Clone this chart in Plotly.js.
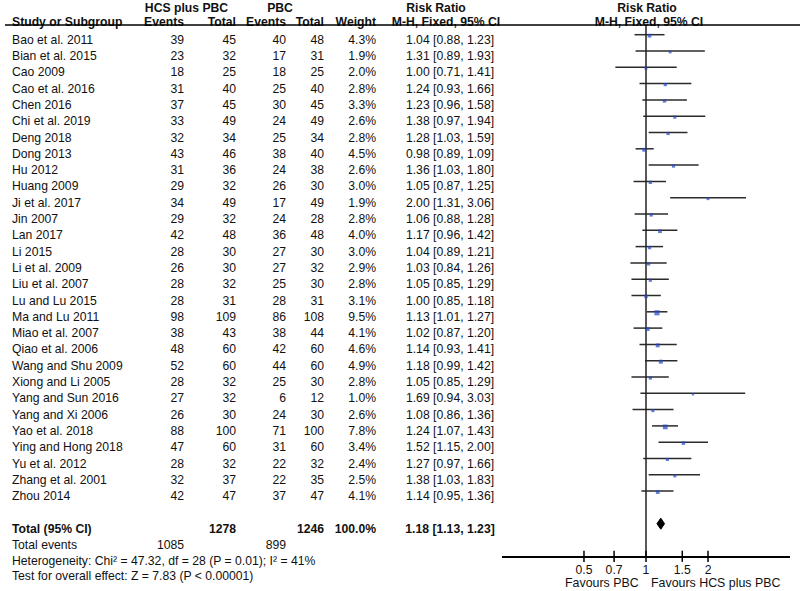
<!DOCTYPE html>
<html>
<head>
<meta charset="utf-8">
<script src="https://cdn.plot.ly/plotly-3.0.1.min.js"></script>
<style>html,body{margin:0;padding:0;background:#fff;}#chart{width:800px;height:591px;}</style>
</head>
<body>
<div id="chart"></div>
<script>
// ---------------- DATA ----------------
const studies = ["Bao et al. 2011","Bian et al. 2015","Cao 2009","Cao et al. 2016","Chen 2016","Chi et al. 2019","Deng 2018","Dong 2013","Hu 2012","Huang 2009","Ji et al. 2017","Jin 2007","Lan 2017","Li 2015","Li et al. 2009","Liu et al. 2007","Lu and Lu 2015","Ma and Lu 2011","Miao et al. 2007","Qiao et al. 2006","Wang and Shu 2009","Xiong and Li 2005","Yang and Sun 2016","Yang and Xi 2006","Yao et al. 2018","Ying and Hong 2018","Yu et al. 2012","Zhang et al. 2001","Zhou 2014"];
const hcsEvents = [39,23,18,31,37,33,32,43,31,29,34,29,42,28,26,28,28,98,38,48,52,28,27,26,88,47,28,32,42];
const hcsTotal  = [45,32,25,40,45,49,34,46,36,32,49,32,48,30,30,32,31,109,43,60,60,32,32,30,100,60,32,37,47];
const pbcEvents = [40,17,18,25,30,24,25,38,24,26,17,24,36,27,27,25,28,86,38,42,44,25,6,24,71,31,22,22,37];
const pbcTotal  = [48,31,25,40,45,49,34,40,38,30,49,28,48,30,32,30,31,108,44,60,60,30,12,30,100,60,32,35,47];
const weights   = [4.3,1.9,2.0,2.8,3.3,2.6,2.8,4.5,2.6,3.0,1.9,2.8,4.0,3.0,2.9,2.8,3.1,9.5,4.1,4.6,4.9,2.8,1.0,2.6,7.8,3.4,2.4,2.5,4.1];
const riskRatio = [1.04,1.31,1.00,1.24,1.23,1.38,1.28,0.98,1.36,1.05,2.00,1.06,1.17,1.04,1.03,1.05,1.00,1.13,1.02,1.14,1.18,1.05,1.69,1.08,1.24,1.52,1.27,1.38,1.14];
const ciLow     = [0.88,0.89,0.71,0.93,0.96,0.97,1.03,0.89,1.03,0.87,1.31,0.88,0.96,0.89,0.84,0.85,0.85,1.01,0.87,0.93,0.99,0.85,0.94,0.86,1.07,1.15,0.97,1.03,0.95];
const ciHigh    = [1.23,1.93,1.41,1.66,1.58,1.94,1.59,1.09,1.80,1.25,3.06,1.28,1.42,1.21,1.26,1.29,1.18,1.27,1.20,1.41,1.42,1.29,3.03,1.36,1.43,2.00,1.66,1.83,1.36];

const totalHcs = 1278, totalPbc = 1246, totalWeight = 100.0;
const totalRR = 1.18, totalLow = 1.13, totalHigh = 1.23;
const totalEventsHcs = 1085, totalEventsPbc = 899;
const hetChi2 = "47.32", hetDf = 28, hetP = "0.01", hetI2 = 41;
const effectZ = "7.83", effectP = "< 0.00001";

const tickVals = [0.5, 0.7, 1, 1.5, 2];
const tickLabels = ["0.5", "0.7", "1", "1.5", "2"];
const axisRange = [0.2, 5];
const nullValue = 1;

// ---------------- LAYOUT CONSTANTS ----------------
const W = 800, H = 591;
const ROW0_PX = 34.7, ROW_PX = 16.3;
const yTop = -ROW0_PX / ROW_PX;
const yBottom = yTop + H / ROW_PX;
const TEXT_DY = 0.37;
const TOTAL_ROW = studies.length + 1;      // 30
const EVENTS_ROW = TOTAL_ROW + 1;
const HET_ROW = TOTAL_ROW + 2;
const TEST_ROW = TOTAL_ROW + 3;
const AXIS_ROW = 32;
const FAV_ROW = 33.25;
const HDR1_ROW = -1.98, HDR2_ROW = -1.07, RULE_ROW = -0.6;
const DIAMOND_HALF = 0.34;

const COL = {study: 12, hcsEv: 184, hcsTot: 236, pbcEv: 286, pbcTot: 324, weight: 376, rr: 450,
             hdrHcs: 186.5, hdrPbc: 280, hdrRR1: 436, hdrRR2: 446, hdrF1: 647, hdrF2: 649};

const FONT = "Liberation Sans, Arial, Helvetica, sans-serif";
const FS = 12.2;
const TXT = "#111";

const rows = studies.map((_, i) => i);
const f2 = v => v.toFixed(2);
const rrText = riskRatio.map((v, i) => `${f2(v)} [${f2(ciLow[i])}, ${f2(ciHigh[i])}]`);
const wText = weights.map(w => w.toFixed(1) + "%");

function textTrace(xs, ys, texts, pos, bold) {
  return {
    type: "scatter", mode: "text", xaxis: "x2", yaxis: "y",
    x: xs, y: ys, text: texts, textposition: pos, cliponaxis: false,
    textfont: {family: FONT, size: FS, color: TXT, weight: bold ? 700 : 400},
    hoverinfo: "skip", showlegend: false
  };
}
const rep = (v, n) => Array(n).fill(v);
const n = studies.length;
const ty = rows.map(r => r + TEXT_DY);

const traces = [];

// CI lines
const ciX = [], ciY = [];
rows.forEach(i => { ciX.push(ciLow[i], ciHigh[i], null); ciY.push(i, i, null); });
traces.push({type: "scatter", mode: "lines", x: ciX, y: ciY, xaxis: "x", yaxis: "y",
  line: {color: "#2b2b2b", width: 1.5}, hoverinfo: "skip", showlegend: false, cliponaxis: false});

// null line
traces.push({type: "scatter", mode: "lines", x: [nullValue, nullValue], y: [RULE_ROW, AXIS_ROW],
  xaxis: "x", yaxis: "y", line: {color: "#222", width: 1.5}, hoverinfo: "skip", showlegend: false});

// point estimates (square size scales with weight)
traces.push({type: "scatter", mode: "markers", x: riskRatio, y: rows.map(r => r + 0.06), xaxis: "x", yaxis: "y",
  marker: {symbol: "square", color: "#2447c2", size: weights.map(w => 1.0 + 1.35 * Math.sqrt(w)), line: {width: 0}},
  hoverinfo: "skip", showlegend: false, cliponaxis: false});

// total diamond
traces.push({type: "scatter", mode: "lines", fill: "toself", fillcolor: "#000",
  x: [totalLow, totalRR, totalHigh, totalRR, totalLow],
  y: [TOTAL_ROW, TOTAL_ROW - DIAMOND_HALF, TOTAL_ROW, TOTAL_ROW + DIAMOND_HALF, TOTAL_ROW],
  xaxis: "x", yaxis: "y", line: {color: "#000", width: 1}, hoverinfo: "skip", showlegend: false});

// axis tick marks (crossing the axis line)
traces.push({type: "scatter", mode: "markers", x: tickVals, y: rep(AXIS_ROW, tickVals.length), xaxis: "x", yaxis: "y",
  marker: {symbol: "line-ns", size: 8, line: {color: "#000", width: 1.5}}, hoverinfo: "skip", showlegend: false, cliponaxis: false});

// headers
traces.push(textTrace([COL.hdrHcs, COL.hdrPbc, COL.hdrRR1, COL.hdrF1], rep(HDR1_ROW + TEXT_DY, 4),
  ["HCS plus PBC", "PBC", "Risk Ratio", "Risk Ratio"], "middle center", true));
traces.push(textTrace([COL.study], [HDR2_ROW + TEXT_DY], ["Study or Subgroup"], "middle right", true));
traces.push(textTrace([COL.hcsEv, COL.hcsTot, COL.pbcEv, COL.pbcTot, COL.weight], rep(HDR2_ROW + TEXT_DY, 5),
  ["Events", "Total", "Events", "Total", "Weight"], "middle left", true));
traces.push(textTrace([COL.hdrRR2, COL.hdrF2], rep(HDR2_ROW + TEXT_DY, 2),
  ["M-H, Fixed, 95% CI", "M-H, Fixed, 95% CI"], "middle center", true));

// study rows
traces.push(textTrace(rep(COL.study, n), ty, studies, "middle right", false));
traces.push(textTrace(rep(COL.hcsEv, n), ty, hcsEvents.map(String), "middle left", false));
traces.push(textTrace(rep(COL.hcsTot, n), ty, hcsTotal.map(String), "middle left", false));
traces.push(textTrace(rep(COL.pbcEv, n), ty, pbcEvents.map(String), "middle left", false));
traces.push(textTrace(rep(COL.pbcTot, n), ty, pbcTotal.map(String), "middle left", false));
traces.push(textTrace(rep(COL.weight, n), ty, wText, "middle left", false));
traces.push(textTrace(rep(COL.rr, n), ty, rrText, "middle center", false));

// total rows
traces.push(textTrace([COL.study], [TOTAL_ROW + TEXT_DY], ["Total (95% CI)"], "middle right", true));
traces.push(textTrace([COL.hcsTot, COL.pbcTot, COL.weight], rep(TOTAL_ROW + TEXT_DY, 3),
  [String(totalHcs), String(totalPbc), totalWeight.toFixed(1) + "%"], "middle left", true));
traces.push(textTrace([COL.rr], [TOTAL_ROW + TEXT_DY], [`${f2(totalRR)} [${f2(totalLow)}, ${f2(totalHigh)}]`], "middle center", true));
traces.push(textTrace([COL.study], [EVENTS_ROW + TEXT_DY], ["Total events"], "middle right", false));
traces.push(textTrace([COL.hcsEv, COL.pbcEv], rep(EVENTS_ROW + TEXT_DY, 2),
  [String(totalEventsHcs), String(totalEventsPbc)], "middle left", false));
traces.push(textTrace([COL.study, COL.study], [HET_ROW + TEXT_DY - 0.05, TEST_ROW + TEXT_DY - 0.1],
  [`Heterogeneity: Chi² = ${hetChi2}, df = ${hetDf} (P = ${hetP}); I² = ${hetI2}%`,
   `Test for overall effect: Z = ${effectZ} (P ${effectP})`], "middle right", false));

const lg = Math.log10;
const layout = {
  width: W, height: H,
  margin: {l: 0, r: 0, t: 0, b: 0, pad: 0},
  paper_bgcolor: "#fff", plot_bgcolor: "rgba(0,0,0,0)",
  showlegend: false,
  font: {family: FONT, size: FS, color: TXT},
  xaxis: {
    type: "log", range: [lg(axisRange[0]), lg(axisRange[1])],
    domain: [502 / W, 790 / W],
    anchor: "free", position: (yBottom - AXIS_ROW) / (yBottom - yTop),
    showline: true, linecolor: "#000", linewidth: 1.5,
    showgrid: false, zeroline: false, ticks: "",
    tickvals: tickVals, ticktext: tickLabels,
    tickfont: {family: FONT, size: 12.2, color: TXT},
    ticklabelstandoff: 2, fixedrange: true
  },
  xaxis2: {range: [0, W], domain: [0, 1], anchor: "y", visible: false, fixedrange: true},
  yaxis: {range: [yBottom, yTop], domain: [0, 1], anchor: "x2", visible: false, fixedrange: true},
  shapes: [
    {type: "line", xref: "paper", yref: "y", x0: 5 / W, x1: 1, y0: RULE_ROW, y1: RULE_ROW,
     line: {color: "#000", width: 1.5}}
  ],
  annotations: [
    {xref: "x", yref: "y", x: lg(nullValue), y: FAV_ROW + TEXT_DY, text: "Favours PBC",
     xanchor: "right", yanchor: "middle", xshift: -5, showarrow: false,
     font: {family: FONT, size: 12.4, color: TXT}},
    {xref: "x", yref: "y", x: lg(nullValue), y: FAV_ROW + TEXT_DY, text: "Favours HCS plus PBC",
     xanchor: "left", yanchor: "middle", xshift: 3, showarrow: false,
     font: {family: FONT, size: 12.4, color: TXT}}
  ]
};

Plotly.newPlot("chart", traces, layout, {staticPlot: true, displayModeBar: false});
</script>
</body>
</html>
